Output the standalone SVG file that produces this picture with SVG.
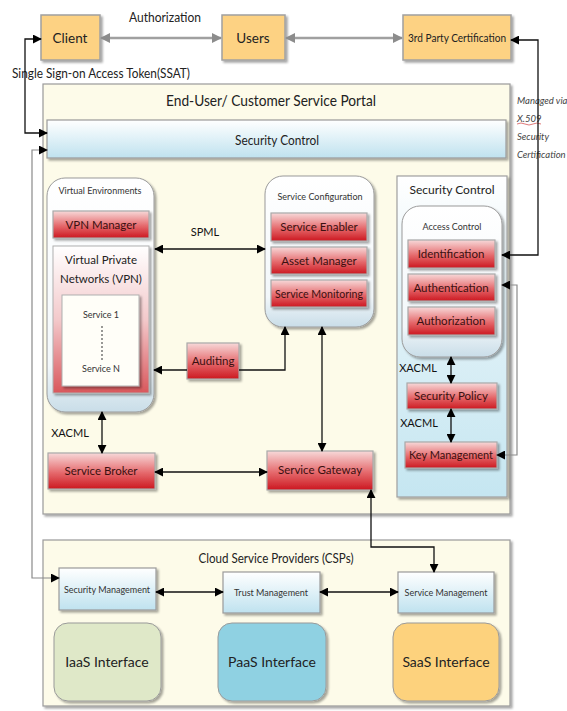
<svg xmlns="http://www.w3.org/2000/svg" width="567" height="711" viewBox="0 0 567 711">
  <defs>
    <linearGradient id="gRed" x1="0" y1="0" x2="0" y2="1">
      <stop offset="0" stop-color="#f7d9d9"/>
      <stop offset="0.55" stop-color="#e5696c"/>
      <stop offset="1" stop-color="#cc1820"/>
    </linearGradient>
    <linearGradient id="gBlueBar" x1="0" y1="0" x2="0" y2="1">
      <stop offset="0" stop-color="#ffffff"/>
      <stop offset="1" stop-color="#bfe2ef"/>
    </linearGradient>
    <linearGradient id="gRound" x1="0" y1="0" x2="0" y2="1">
      <stop offset="0" stop-color="#ffffff"/>
      <stop offset="0.8" stop-color="#f2f7fa"/>
      <stop offset="1" stop-color="#c9dde8"/>
    </linearGradient>
    <linearGradient id="gVpn" x1="0" y1="0" x2="0" y2="1">
      <stop offset="0" stop-color="#ffffff"/>
      <stop offset="0.5" stop-color="#f3c9cb"/>
      <stop offset="1" stop-color="#d9575c"/>
    </linearGradient>
    <linearGradient id="gSecCtl" x1="0" y1="0" x2="0" y2="1">
      <stop offset="0" stop-color="#ffffff"/>
      <stop offset="0.35" stop-color="#e4f3f8"/>
      <stop offset="1" stop-color="#c5e6f1"/>
    </linearGradient>
    <filter id="shadow" x="-10%" y="-10%" width="130%" height="140%">
      <feDropShadow dx="2" dy="2" stdDeviation="1.2" flood-color="#000" flood-opacity="0.35"/>
    </filter>
    <marker id="ah" viewBox="0 0 10 10" refX="9" refY="5" markerWidth="9" markerHeight="9" markerUnits="userSpaceOnUse" orient="auto-start-reverse">
      <path d="M0,0 L10,5 L0,10 z" fill="#000"/>
    </marker>
    <marker id="ahGray" viewBox="0 0 10 10" refX="9" refY="5" markerWidth="10" markerHeight="10" markerUnits="userSpaceOnUse" orient="auto-start-reverse">
      <path d="M0,0 L10,5 L0,10 z" fill="#8c8c8c"/>
    </marker>
  </defs>
  <style>
    text { font-family: Lato, "Liberation Sans", sans-serif; fill: #222; text-anchor: middle; }
    .top { fill: #fdd283; stroke: #a0a0a0; stroke-width: 1.5; filter: url(#shadow); }
    .red { fill: url(#gRed); stroke: #a8a8a8; stroke-width: 1.2; filter: url(#shadow); }
    .redt { font-size: 11.5px; fill: #3a1010; }
    .bluebar { fill: url(#gBlueBar); stroke: #9a9a9a; stroke-width: 1.2; filter: url(#shadow); }
    .round { fill: url(#gRound); stroke: #9a9a9a; stroke-width: 1; filter: url(#shadow); }
    .panel { fill: #fdfbe9; stroke: #9a9a9a; stroke-width: 1.2; filter: url(#shadow); }
    .iface { stroke: #9a9a9a; stroke-width: 1; filter: url(#shadow); }
    .small { font-size: 9px; fill: #333; }
    .lbl { font-size: 11px; fill: #111; }
    .note { font-size: 9.5px; font-style: italic; fill: #444; text-anchor: start; }
    .c { fill: none; stroke: #111; stroke-width: 1.3; marker-start: url(#ah); marker-end: url(#ah); }
    .cg { fill: none; stroke: #8a8a8a; stroke-width: 1.2; marker-start: url(#ah); marker-end: url(#ah); }
    .one { marker-start: none; }
    .gray2 { fill: none; stroke: #a0a0a0; stroke-width: 2.5; marker-start: url(#ahGray); marker-end: url(#ahGray); }
  </style>

  <!-- outer panels -->
  <g id="portal">
    <rect class="panel" x="43" y="84" width="467" height="430"/>
    <text x="271" y="106" style="font-size:16px" textLength="210" lengthAdjust="spacingAndGlyphs">End-User/ Customer Service Portal</text>
  </g>
  <g id="csp">
    <rect class="panel" x="43" y="540" width="467" height="166"/>
    <text x="276" y="563" style="font-size:14px" textLength="155" lengthAdjust="spacingAndGlyphs">Cloud Service Providers (CSPs)</text>
  </g>

  <!-- top row -->
  <g id="client">
    <rect class="top" x="41" y="15" width="59" height="45"/>
    <text x="70" y="43" style="font-size:13.5px">Client</text>
  </g>
  <g id="users">
    <rect class="top" x="222" y="15" width="63" height="45"/>
    <text x="253" y="43" style="font-size:13.5px">Users</text>
  </g>
  <g id="third-party">
    <rect class="top" x="403" y="15" width="108" height="45"/>
    <text x="457" y="42" style="font-size:11.5px" textLength="98" lengthAdjust="spacingAndGlyphs">3rd Party Certification</text>
  </g>

  <text x="165" y="22" style="font-size:13.5px" textLength="72" lengthAdjust="spacingAndGlyphs">Authorization</text>
  <text x="101" y="78" style="font-size:13.5px" textLength="178" lengthAdjust="spacingAndGlyphs">Single Sign-on Access Token(SSAT)</text>
  <g id="x509-note">
    <text x="517" y="104" class="note">Managed via</text>
    <text x="517" y="122" class="note">X.509</text>
    <path d="M517,124 q4,-2 8,0 t8,0 t8,0" fill="none" stroke="#d04040" stroke-width="0.7"/>
    <text x="517" y="140" class="note">Security</text>
    <text x="517" y="158" class="note">Certification</text>
  </g>

  <!-- security control bar -->
  <g id="security-bar">
    <rect class="bluebar" x="47" y="120" width="459" height="38"/>
    <text x="277" y="145" style="font-size:13.5px" textLength="84" lengthAdjust="spacingAndGlyphs">Security Control</text>
  </g>

  <!-- virtual environments -->
  <g id="virtual-environments">
    <rect class="round" x="47" y="178" width="107" height="234" rx="18"/>
    <text x="100" y="194" class="small">Virtual Environments</text>
  </g>
  <g id="vpn-manager">
    <rect class="red" x="53" y="211" width="96" height="27"/>
    <text x="101" y="229" class="redt">VPN Manager</text>
  </g>
  <g id="vpn">
    <rect x="53" y="246" width="96" height="147" fill="url(#gVpn)" stroke="#b0b0b0" stroke-width="1" filter="url(#shadow)"/>
    <text x="101" y="264" style="font-size:11.5px">Virtual Private</text>
    <text x="101" y="283" style="font-size:11.5px">Networks (VPN)</text>
    <rect x="62" y="295" width="77" height="91" fill="#fffef8" stroke="#b0b0b0" stroke-width="1" filter="url(#shadow)"/>
    <text x="101" y="318" class="small">Service 1</text>
    <line x1="102" y1="326" x2="102" y2="360" stroke="#555" stroke-width="1.2" stroke-dasharray="2,2"/>
    <text x="101" y="372" class="small">Service N</text>
  </g>

  <!-- service configuration -->
  <g id="service-configuration">
    <rect class="round" x="265" y="176" width="109" height="151" rx="18"/>
    <text x="320" y="200" class="small">Service Configuration</text>
  </g>
  <g id="service-enabler">
    <rect class="red" x="271" y="213" width="96" height="28"/>
    <text x="319" y="231" class="redt">Service Enabler</text>
  </g>
  <g id="asset-manager">
    <rect class="red" x="271" y="247" width="96" height="27"/>
    <text x="319" y="265" class="redt">Asset Manager</text>
  </g>
  <g id="service-monitoring">
    <rect class="red" x="271" y="280" width="96" height="27"/>
    <text x="319" y="298" class="redt" textLength="88" lengthAdjust="spacingAndGlyphs">Service Monitoring</text>
  </g>

  <g id="auditing">
    <rect class="red" x="187" y="343" width="52" height="36"/>
    <text x="213" y="365" class="redt">Auditing</text>
  </g>
  <g id="service-broker">
    <rect class="red" x="48" y="453" width="107" height="36"/>
    <text x="101" y="475" class="redt">Service Broker</text>
  </g>
  <g id="service-gateway">
    <rect class="red" x="267" y="451" width="106" height="39"/>
    <text x="320" y="474" class="redt">Service Gateway</text>
  </g>

  <!-- security control column -->
  <g id="security-control">
    <rect x="397" y="176" width="110" height="321" fill="url(#gSecCtl)" stroke="#a0a0a0" stroke-width="1.2" filter="url(#shadow)"/>
    <text x="452" y="194" style="font-size:12px">Security Control</text>
  </g>
  <g id="access-control">
    <rect class="round" x="402" y="206" width="100" height="151" rx="18"/>
    <text x="452" y="230" class="small">Access Control</text>
  </g>
  <g id="identification">
    <rect class="red" x="408" y="240" width="87" height="28"/>
    <text x="451" y="258" class="redt">Identification</text>
  </g>
  <g id="authentication">
    <rect class="red" x="408" y="274" width="87" height="27"/>
    <text x="451" y="292" class="redt">Authentication</text>
  </g>
  <g id="authorization">
    <rect class="red" x="408" y="307" width="87" height="28"/>
    <text x="451" y="325" class="redt">Authorization</text>
  </g>
  <g id="security-policy">
    <rect class="red" x="407" y="383" width="90" height="26"/>
    <text x="451" y="400" class="redt">Security Policy</text>
  </g>
  <g id="key-management">
    <rect class="red" x="405" y="442" width="92" height="26"/>
    <text x="451" y="459" class="redt" textLength="84" lengthAdjust="spacingAndGlyphs">Key Management</text>
  </g>

  <!-- CSP components -->
  <g id="security-management">
    <rect class="bluebar" x="59" y="568" width="97" height="42"/>
    <text x="107" y="593" class="small">Security Management</text>
  </g>
  <g id="trust-management">
    <rect class="bluebar" x="223" y="572" width="97" height="41"/>
    <text x="271" y="596" class="small">Trust Management</text>
  </g>
  <g id="service-management">
    <rect class="bluebar" x="398" y="572" width="96" height="41"/>
    <text x="446" y="596" class="small">Service Management</text>
  </g>
  <g id="iaas">
    <rect class="iface" x="54" y="623" width="107" height="78" rx="14" fill="#dfe8c8"/>
    <text x="107" y="667" style="font-size:14px">IaaS Interface</text>
  </g>
  <g id="paas">
    <rect class="iface" x="218" y="623" width="108" height="78" rx="14" fill="#8fd1e2"/>
    <text x="272" y="667" style="font-size:14px">PaaS Interface</text>
  </g>
  <g id="saas">
    <rect class="iface" x="393" y="623" width="106" height="78" rx="14" fill="#fdd27d"/>
    <text x="446" y="667" style="font-size:14px">SaaS Interface</text>
  </g>

  <!-- connector labels -->
  <text x="205" y="236" class="lbl">SPML</text>
  <text x="70" y="437" class="lbl">XACML</text>
  <text x="418" y="372" class="lbl">XACML</text>
  <text x="419" y="427" class="lbl">XACML</text>

  <!-- connectors -->
  <g id="connectors">
    <path class="gray2" d="M101,38 H221"/>
    <path class="gray2" d="M286,38 H402"/>
    <path class="c" d="M41,39 H25 V133 H47"/>
    <path class="cg" d="M47,150 H32 V578 H59"/>
    <path class="c" d="M511,40 H538 V255 H502"/>
    <path class="cg" d="M502,285 H517 V455 H497"/>
    <path class="c" d="M155,249 H265"/>
    <path class="c one" d="M187,370 H154"/>
    <path class="c one" d="M239,370 H285 V327"/>
    <path class="c" d="M322,327 V451"/>
    <path class="c" d="M102,412 V453"/>
    <path class="c" d="M155,472 H267"/>
    <path class="c" d="M371,490 V547 H434 V572"/>
    <path class="c" d="M451,357 V383"/>
    <path class="c" d="M451,409 V442"/>
    <path class="c" d="M156,592 H223"/>
    <path class="c" d="M320,592 H398"/>
  </g>
</svg>
